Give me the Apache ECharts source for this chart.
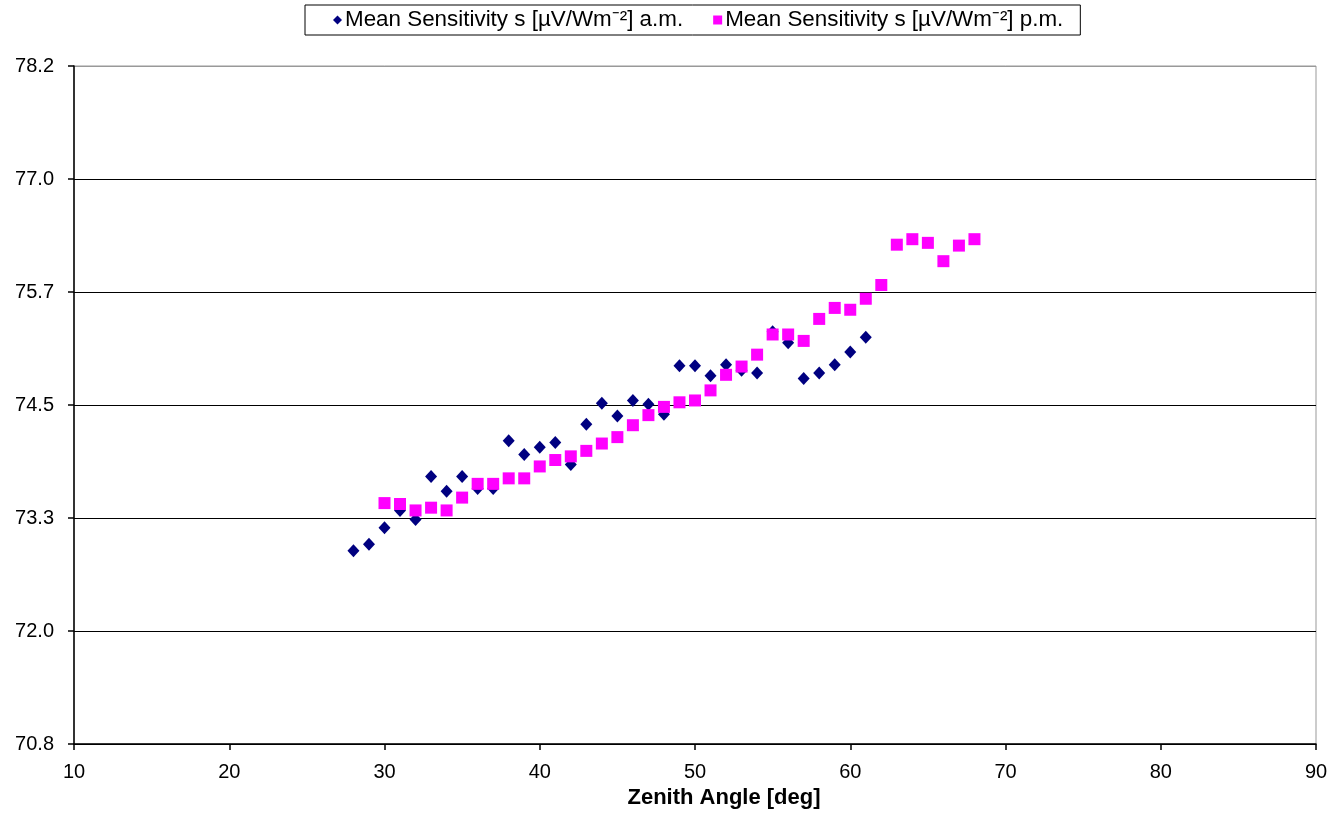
<!DOCTYPE html>
<html>
<head>
<meta charset="utf-8">
<script src="https://cdn.jsdelivr.net/npm/echarts@6/dist/echarts.min.js"></script>
<style>
html,body{margin:0;padding:0;background:#fff;}
#chart{width:1332px;height:814px;}
</style>
</head>
<body>
<div id="chart"></div>
<script>
const seriesNames = ['Mean Sensitivity s [µV/Wm⁻²] a.m.', 'Mean Sensitivity s [µV/Wm⁻²] p.m.'];
const amAngles = [28,29,30,31,32,33,34,35,36,37,38,39,40,41,42,43,44,45,46,47,48,49,50,51,52,53,54,55,56,57,58,59,60,61];
const amValues = [72.91,72.98,73.16,73.35,73.25,73.72,73.56,73.72,73.59,73.59,74.11,73.96,74.04,74.09,73.85,74.29,74.52,74.38,74.55,74.51,74.40,74.93,74.93,74.82,74.94,74.88,74.85,75.30,75.18,74.79,74.85,74.94,75.08,75.24];
const pmAngles = [30,31,32,33,34,35,36,37,38,39,40,41,42,43,44,45,46,47,48,49,50,51,52,53,54,55,56,57,58,59,60,61,62,63,64,65,66,67,68];
const pmValues = [73.43,73.42,73.35,73.38,73.35,73.49,73.64,73.64,73.70,73.70,73.83,73.90,73.94,74.00,74.08,74.15,74.28,74.39,74.48,74.53,74.55,74.66,74.83,74.92,75.05,75.27,75.27,75.20,75.44,75.56,75.54,75.66,75.81,76.25,76.31,76.27,76.07,76.24,76.31];
const xMin = 10, xMax = 90, xStep = 10;
const yMin = 70.8, yMax = 78.2, ySteps = 6;
const xTitle = 'Zenith Angle [deg]';

const amData = amAngles.map((a, i) => [a, amValues[i]]);
const pmData = pmAngles.map((a, i) => [a, pmValues[i]]);
const font = '"Liberation Sans", Arial, sans-serif';

const chart = echarts.init(document.getElementById('chart'), null, {renderer: 'canvas'});
chart.setOption({
  animation: false,
  backgroundColor: '#fff',
  textStyle: {fontFamily: font},
  grid: {left: 74, right: 16, top: 66, bottom: 68, show: true, borderColor: '#999', borderWidth: 1, backgroundColor: 'transparent'},
  legend: {
    left: 305, top: 5,
    data: [
      {name: seriesNames[0], icon: 'diamond'},
      {name: seriesNames[1], icon: 'rect'}
    ],
    itemWidth: 9, itemHeight: 9, itemGap: 30,
    borderColor: '#000', borderWidth: 1,
    padding: [4, 17, 4, 28],
    textStyle: {fontFamily: font, fontSize: 22.4, color: '#000', padding: [0, 0, 0, -2]}
  },
  xAxis: {
    type: 'value', min: xMin, max: xMax, interval: xStep,
    name: xTitle, nameLocation: 'middle', nameGap: 42,
    nameTextStyle: {fontFamily: font, fontSize: 22, fontWeight: 'bold', color: '#000', padding: [0, 0, 0, 58]},
    axisLine: {show: true, onZero: false, lineStyle: {color: '#000', width: 1.5}},
    axisTick: {show: true, length: 6, lineStyle: {color: '#000', width: 1.5}},
    axisLabel: {fontFamily: font, fontSize: 20, color: '#000', margin: 18},
    splitLine: {show: false}
  },
  yAxis: {
    type: 'value', min: yMin, max: yMax, interval: (yMax - yMin) / ySteps,
    axisLine: {show: true, onZero: false, lineStyle: {color: '#000', width: 1.5}},
    axisTick: {show: true, length: 6, lineStyle: {color: '#000', width: 1.5}},
    axisLabel: {fontFamily: font, fontSize: 20, color: '#000', margin: 20,
      formatter: v => v.toFixed(1)},
    splitLine: {show: true, lineStyle: {color: ['#000','#000','#000','#000','#000','#000','#999'], width: 1.2}}
  },
  series: [
    {name: seriesNames[0], type: 'scatter', data: amData, symbol: 'diamond', symbolSize: [12, 13],
     itemStyle: {color: '#000080', opacity: 1}, z: 2},
    {name: seriesNames[1], type: 'scatter', data: pmData, symbol: 'rect', symbolSize: 12,
     itemStyle: {color: '#FF00FF', opacity: 1}, z: 3}
  ]
});
</script>
</body>
</html>
